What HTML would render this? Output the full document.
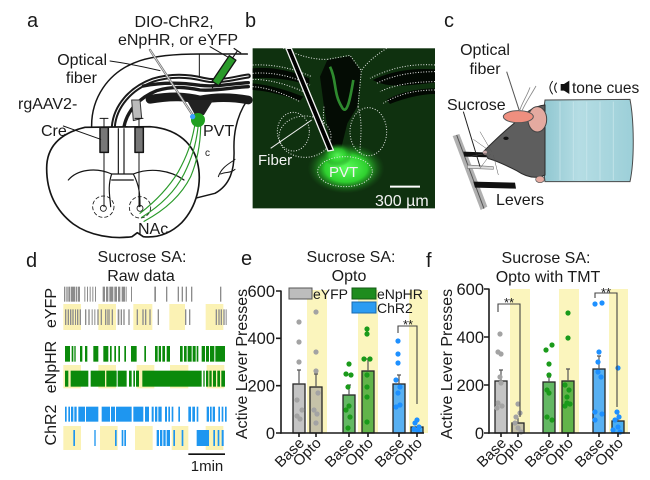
<!DOCTYPE html>
<html><head><meta charset="utf-8">
<style>
html,body{margin:0;padding:0;background:#fff;}
svg{display:block;}
text{font-family:"Liberation Sans",Arial,sans-serif;fill:#1a1a1a;}
</style></head><body>
<svg width="650" height="480" viewBox="0 0 650 480" xmlns="http://www.w3.org/2000/svg">
<defs>
<radialGradient id="pvtg" cx="0.5" cy="0.5" r="0.5">
<stop offset="0" stop-color="#5cff5c"/>
<stop offset="0.55" stop-color="#2fd02f"/>
<stop offset="1" stop-color="#1a6a1a" stop-opacity="0"/>
</radialGradient>
<linearGradient id="tubeg" x1="0" y1="0" x2="1" y2="0">
<stop offset="0" stop-color="#8fc6d0"/>
<stop offset="0.4" stop-color="#b5dde4"/>
<stop offset="1" stop-color="#9ccfd8"/>
</linearGradient>
</defs>
<rect width="650" height="480" fill="#fff"/>

<!-- ================= PANEL A ================= -->
<g transform="scale(0.333333)" fill="none" stroke="#151515" stroke-width="4.5" stroke-linecap="round" stroke-linejoin="round">
  <path d="M275,385 C272,300 320,215 420,182 C470,166 530,162 600,162 L742,162" fill="#fff"/>
  <path d="M598,164 L598,235" stroke-width="3"/>
  <path d="M742,300 C715,340 700,390 702,450 C704,510 690,555 645,580 L585,595"/>
  <path d="M340,380 C345,320 390,265 460,240 C520,222 570,228 610,238 C660,250 710,232 745,228" stroke="#1a1a1a" stroke-width="15"/>
  <path d="M340,380 C345,320 390,265 460,240 C520,222 570,228 610,238 C660,250 710,232 745,228" stroke="#fff" stroke-width="3"/>
  <path d="M430,258 C500,244 560,250 600,256 C650,262 700,250 745,248" stroke="#1a1a1a" stroke-width="10"/>
  <path d="M372,380 C382,330 420,292 470,272 C520,257 560,262 600,270 C650,274 710,260 745,260" stroke="#1a1a1a" stroke-width="10"/>
  <path d="M450,298 C520,286 560,290 600,300 C650,290 700,292 745,300" stroke="#1a1a1a" stroke-width="26"/>
  <path d="M560,300 L640,300 L612,345 L585,345 Z" fill="#222" stroke="none"/>
  <path d="M395,300 L420,300 L425,355 L400,362 Z" fill="#bbb" stroke="#333" stroke-width="3"/>
  <path d="M255,382 L450,380 C520,385 575,420 592,485 C608,550 590,620 545,668 C510,702 470,714 430,710 L412,698 L396,710 C340,718 270,708 220,672 C168,632 140,575 140,505 C140,440 180,400 255,382 Z" fill="#fff" stroke-width="5"/>
  <path d="M355,386 L355,520 M372,386 L372,520" stroke-width="3.5"/>
  <path d="M205,540 C230,510 285,500 335,522 L400,522 C450,502 510,510 552,540" stroke-width="3.5"/>
  <path d="M335,540 L400,540" stroke-width="3.5"/>
  <path d="M335,522 C322,560 330,590 332,620 M400,522 C420,560 420,590 420,620" stroke-width="3.5"/>
  <circle cx="310" cy="620" r="32" stroke-dasharray="10 8" stroke-width="2.5"/>
  <circle cx="420" cy="622" r="32" stroke-dasharray="10 8" stroke-width="2.5"/>
  <circle cx="310" cy="625" r="9" stroke-width="2.5"/>
  <circle cx="420" cy="625" r="9" stroke-width="2.5"/>
  <path d="M655,530 C665,500 690,490 705,478 M662,522 C678,515 692,520 705,508" stroke-width="3"/>
  <path d="M312,355 L312,385 M300,355 L324,355 M312,455 L312,620" stroke-width="3"/>
  <rect x="300" y="382" width="25" height="75" fill="#777"/>
  <path d="M417,355 L417,385 M405,355 L429,355 M417,455 L417,620" stroke-width="3"/>
  <rect x="405" y="382" width="25" height="75" fill="#777"/>
  <path d="M190,378 L302,418" stroke-width="3"/>
  <path d="M330,183 C380,190 430,200 480,212" stroke-width="3"/>
  <path d="M630,140 L690,175" stroke-width="3"/>
  <path d="M450,150 L580,348" stroke="#777" stroke-width="7"/>
  <path d="M450,150 L580,348" stroke="#fff" stroke-width="2"/>
  <g transform="translate(672,212) rotate(-56)">
    <rect x="-46" y="-12" width="92" height="24" fill="#2a9a2a" stroke="#151515" stroke-width="4"/>
    <path d="M46,0 L72,0 M72,-12 L72,12" stroke-width="3.5"/>
    <path d="M-46,0 L-62,0" stroke-width="3"/>
  </g>
  <path d="M585,372 C575,430 560,470 535,515 C505,565 465,605 420,640" stroke="#2a9a2a" stroke-width="3.5"/>
  <path d="M595,374 C588,440 572,482 552,522 C525,575 480,618 425,652" stroke="#2a9a2a" stroke-width="3.5"/>
  <path d="M602,372 C602,432 592,482 572,530 C542,590 492,632 432,664" stroke="#2a9a2a" stroke-width="3.5"/>
  <circle cx="594" cy="360" r="21" fill="#1fa01f" stroke="none"/>
  <circle cx="578" cy="350" r="8" fill="#3aa0ff" stroke="none"/>
</g>
<text x="27" y="27" font-size="20">a</text>
<text x="174" y="27" font-size="16" text-anchor="middle">DIO-ChR2,</text>
<text x="178" y="45" font-size="16" text-anchor="middle">eNpHR, or eYFP</text>
<text x="107" y="65" font-size="16" text-anchor="end">Optical</text>
<text x="97" y="83" font-size="16" text-anchor="end">fiber</text>
<text x="18" y="109" font-size="16">rgAAV2-</text>
<text x="41" y="136" font-size="16">Cre</text>
<text x="203" y="136" font-size="16">PVT</text>
<text x="138" y="234" font-size="16">NAc</text>
<text x="205" y="156" font-size="10">c</text>

<!-- ================= PANEL B ================= -->
<text x="245" y="27" font-size="20">b</text>
<g transform="translate(250,40) scale(0.333333)">
  <rect x="8" y="25" width="547" height="480" fill="#133a13"/>
  <rect x="8" y="25" width="547" height="480" fill="#0a230a" opacity="0.35"/>
  <path d="M8,85 C60,80 120,90 178,115 L178,135 C120,118 60,110 8,115 Z" fill="#020802"/>
  <path d="M8,130 C60,135 110,150 160,170 L150,182 C100,165 50,152 8,150 Z" fill="#020802"/>
  <path d="M555,88 C480,83 420,95 368,120 C420,148 480,135 555,128 Z" fill="#020802"/>
  <path d="M555,145 C500,145 440,160 410,180 L420,192 C470,172 520,162 555,162 Z" fill="#020802"/>
  <path d="M232,60 L300,48 L332,92 L322,200 L292,250 L272,330 L242,320 L222,200 L210,110 Z" fill="#040c04"/>
  <path d="M240,80 C260,120 250,160 275,200 C290,230 300,180 310,120" fill="none" stroke="#2e8a2e" stroke-width="8"/>
  <ellipse cx="288" cy="385" rx="115" ry="75" fill="url(#pvtg)"/>
  <ellipse cx="262" cy="345" rx="45" ry="35" fill="url(#pvtg)" opacity="0.8"/>
  <g fill="none" stroke="#e8e8e8" stroke-width="3" stroke-dasharray="3 5">
    <path d="M8,75 C70,72 130,85 185,110"/>
    <path d="M8,100 C70,95 130,110 180,135"/>
    <path d="M8,118 C60,118 120,135 170,160"/>
    <path d="M8,140 C50,142 100,160 150,185"/>
    <path d="M555,75 C480,70 420,85 360,115"/>
    <path d="M555,95 C490,95 430,105 380,130"/>
    <path d="M555,125 C490,125 430,135 390,155"/>
    <path d="M555,150 C490,150 440,165 400,190"/>
    <path d="M232,58 L300,46 L334,92 L324,200"/>
    <path d="M100,25 C140,45 190,60 232,58"/>
    <path d="M410,25 C370,50 345,75 334,92"/>
    <ellipse cx="165" cy="290" rx="78" ry="62"/>
    <ellipse cx="130" cy="275" rx="48" ry="58"/>
    <ellipse cx="355" cy="275" rx="55" ry="72"/>
    <ellipse cx="285" cy="395" rx="82" ry="45"/>
    <path d="M222,200 C215,260 230,310 240,330"/>
    <path d="M324,200 C340,250 330,300 330,340"/>
  </g>
  <path d="M108,25 L124,25 L250,330 L234,333 Z" fill="#000" stroke="#f4f4f4" stroke-width="4"/>
  <path d="M62,325 L185,240" stroke="#eee" stroke-width="3"/>
  <path d="M420,440 L510,440" stroke="#fff" stroke-width="6"/>
</g>
<text x="258" y="165" font-size="15" style="fill:#f2f2f2">Fiber</text>
<text x="329" y="177" font-size="15" style="fill:#f2f2f2">PVT</text>
<text x="375" y="206" font-size="16" style="fill:#f2f2f2">300 µm</text>

<!-- ================= PANEL C ================= -->
<text x="444" y="27" font-size="20">c</text>
<g transform="translate(430,0) scale(0.333333)">
  <path d="M68,408 L88,402 L172,620 L152,630 Z" fill="#b0b0b0"/>
  <path d="M80,405 L162,626" stroke="#555" stroke-width="3"/>
  <path d="M100,455 L178,458 L181,472 L103,470 Z" fill="#111"/>
  <path d="M112,495 L190,500 L190,508 L112,505 Z" fill="#ddd" stroke="#777" stroke-width="2"/>
  <path d="M130,545 L255,548 L258,566 L135,563 Z" fill="#111"/>
  <path d="M100,335 L150,500" stroke="#222" stroke-width="3"/>
  <path d="M345,300 L600,298 C612,360 614,480 600,545 L345,545 C335,470 335,370 345,300 Z" fill="url(#tubeg)" stroke="#4a4a4a" stroke-width="3"/>
  <g stroke="#c8e6ec" stroke-width="3" opacity="0.8">
    <path d="M390,305 L390,540 M430,305 L430,540 M470,305 L470,540 M510,305 L510,540 M550,305 L550,540"/>
  </g>
  <path d="M160,455 C185,430 215,400 250,372 C280,342 310,318 345,315 L345,525 C320,537 290,532 260,512 C230,497 200,482 175,476 Z" fill="#5e5e5e" stroke="#2a2a2a" stroke-width="3"/>
  <ellipse cx="322" cy="358" rx="28" ry="38" fill="#e4aaa0" stroke="#444" stroke-width="3"/>
  <ellipse cx="265" cy="350" rx="45" ry="18" fill="#ef8f7f" stroke="#555" stroke-width="3"/>
  <ellipse cx="228" cy="415" rx="8" ry="5" fill="#111"/>
  <circle cx="165" cy="458" r="6" fill="#caa"/>
  <ellipse cx="330" cy="538" rx="13" ry="10" fill="#e4aaa0" stroke="#555" stroke-width="2"/>
  <g stroke="#555" stroke-width="1.5" fill="none">
    <path d="M178,452 L130,418 M178,458 L118,470 M182,462 L150,505 M190,465 L205,525 M185,455 L150,395"/>
  </g>
  <path d="M230,215 L268,332" stroke="#555" stroke-width="3"/>
  <path d="M318,258 C300,290 285,310 275,335 M300,262 C290,290 275,310 268,335" stroke="#888" stroke-width="2.5" fill="none"/>
  <path d="M392,252 L402,252 L418,242 L418,282 L402,272 L392,272 Z" fill="#111"/>
  <path d="M380,248 C372,258 372,268 380,278 M368,243 C357,258 357,268 368,283" stroke="#111" stroke-width="3" fill="none"/>
</g>
<text x="485" y="55" font-size="16" text-anchor="middle">Optical</text>
<text x="485" y="74" font-size="16" text-anchor="middle">fiber</text>
<text x="572" y="93" font-size="15.5">tone cues</text>
<text x="447" y="110" font-size="16">Sucrose</text>
<text x="496" y="205" font-size="16">Levers</text>

<!-- ================= PANEL D ================= -->
<text x="26" y="267" font-size="20">d</text>
<text x="142" y="262" font-size="16" text-anchor="middle">Sucrose SA:</text>
<text x="141" y="281" font-size="16" text-anchor="middle">Raw data</text>
<text transform="translate(56,308) rotate(-90)" font-size="16" text-anchor="middle">eYFP</text>
<text transform="translate(56,367) rotate(-90)" font-size="16" text-anchor="middle">eNpHR</text>
<text transform="translate(56,425) rotate(-90)" font-size="16" text-anchor="middle">ChR2</text>
<g transform="translate(55,280) scale(0.333333)">
  <g fill="#fbf2b4">
    <rect x="25" y="72" width="53" height="78"/><rect x="130" y="72" width="53" height="78"/><rect x="235" y="72" width="57" height="78"/><rect x="343" y="72" width="47" height="78"/><rect x="452" y="72" width="53" height="78"/>
    <rect x="25" y="255" width="53" height="70"/><rect x="130" y="255" width="53" height="70"/><rect x="245" y="255" width="53" height="70"/><rect x="345" y="255" width="55" height="70"/><rect x="455" y="255" width="53" height="70"/>
    <rect x="25" y="438" width="53" height="72"/><rect x="135" y="438" width="53" height="72"/><rect x="240" y="438" width="53" height="72"/><rect x="350" y="438" width="50" height="72"/><rect x="452" y="438" width="53" height="72"/>
  </g>
  <g fill="#8c8c8c">
    <rect x="27" y="20" width="4" height="45"/><rect x="34" y="20" width="4" height="45"/><rect x="40" y="20" width="6" height="45"/><rect x="48" y="20" width="12" height="45"/><rect x="62" y="20" width="4" height="45"/><rect x="68" y="20" width="7" height="45"/>
    <rect x="88" y="20" width="3" height="45"/><rect x="96" y="20" width="3" height="45"/><rect x="104" y="20" width="3" height="45"/><rect x="112" y="20" width="3" height="45"/><rect x="120" y="20" width="3" height="45"/>
    <rect x="143" y="20" width="7" height="45"/><rect x="153" y="20" width="7" height="45"/><rect x="163" y="20" width="12" height="45"/><rect x="178" y="20" width="8" height="45"/><rect x="189" y="20" width="7" height="45"/><rect x="200" y="20" width="10" height="45"/><rect x="212" y="20" width="3" height="45"/>
    <rect x="228" y="20" width="3" height="45"/><rect x="298" y="20" width="5" height="45"/><rect x="333" y="20" width="4" height="45"/><rect x="368" y="20" width="4" height="45"/><rect x="380" y="20" width="4" height="45"/><rect x="392" y="20" width="4" height="45"/><rect x="408" y="20" width="4" height="45"/><rect x="495" y="20" width="4" height="45"/>
  </g>
  <g fill="#8c8c8c">
    <rect x="30" y="88" width="4" height="47"/><rect x="38" y="88" width="4" height="47"/><rect x="45" y="88" width="4" height="47"/><rect x="52" y="88" width="4" height="47"/><rect x="60" y="88" width="3" height="47"/><rect x="66" y="88" width="4" height="47"/><rect x="74" y="88" width="4" height="47"/>
    <rect x="90" y="88" width="4" height="47"/><rect x="100" y="88" width="4" height="47"/><rect x="110" y="88" width="3" height="47"/><rect x="118" y="88" width="3" height="47"/><rect x="127" y="88" width="4" height="47"/><rect x="137" y="88" width="4" height="47"/><rect x="150" y="88" width="3" height="47"/><rect x="155" y="88" width="3" height="47"/><rect x="160" y="88" width="4" height="47"/><rect x="170" y="88" width="4" height="47"/>
    <rect x="188" y="88" width="5" height="47"/><rect x="197" y="88" width="4" height="47"/><rect x="205" y="88" width="4" height="47"/><rect x="220" y="88" width="4" height="47"/><rect x="245" y="88" width="4" height="47"/><rect x="262" y="88" width="4" height="47"/><rect x="270" y="88" width="4" height="47"/><rect x="283" y="88" width="4" height="47"/><rect x="308" y="88" width="4" height="47"/>
    <rect x="390" y="88" width="4" height="47"/><rect x="402" y="88" width="4" height="47"/><rect x="482" y="88" width="4" height="47"/><rect x="490" y="88" width="4" height="47"/><rect x="497" y="88" width="4" height="47"/><rect x="505" y="88" width="4" height="47"/><rect x="512" y="88" width="3" height="47"/>
  </g>
  <g fill="#0b8a0b">
    <rect x="30" y="198" width="15" height="47"/><rect x="50" y="198" width="5" height="47"/><rect x="58" y="198" width="4" height="47"/><rect x="75" y="198" width="7" height="47"/><rect x="90" y="198" width="7" height="47"/><rect x="115" y="198" width="15" height="47"/><rect x="145" y="198" width="15" height="47"/><rect x="165" y="198" width="5" height="47"/><rect x="178" y="198" width="5" height="47"/><rect x="190" y="198" width="5" height="47"/><rect x="208" y="198" width="5" height="47"/><rect x="228" y="198" width="17" height="47"/><rect x="268" y="198" width="5" height="47"/>
    <rect x="300" y="198" width="8" height="47"/><rect x="311" y="198" width="7" height="47"/><rect x="322" y="198" width="8" height="47"/><rect x="335" y="198" width="10" height="47"/><rect x="375" y="198" width="8" height="47"/><rect x="387" y="198" width="8" height="47"/><rect x="398" y="198" width="12" height="47"/><rect x="413" y="198" width="9" height="47"/><rect x="425" y="198" width="5" height="47"/><rect x="440" y="198" width="10" height="47"/><rect x="453" y="198" width="9" height="47"/><rect x="465" y="198" width="13" height="47"/><rect x="481" y="198" width="29" height="47"/>
  </g>
  <g fill="#0b8a0b">
    <rect x="30" y="272" width="10" height="48"/><rect x="47" y="272" width="53" height="48"/><rect x="107" y="272" width="43" height="48"/><rect x="154" y="272" width="31" height="48"/><rect x="188" y="272" width="27" height="48"/><rect x="222" y="272" width="8" height="48"/><rect x="235" y="272" width="5" height="48"/><rect x="243" y="272" width="9" height="48"/><rect x="262" y="272" width="178" height="48"/><rect x="445" y="272" width="4" height="48"/><rect x="453" y="272" width="7" height="48"/><rect x="463" y="272" width="7" height="48"/><rect x="474" y="272" width="9" height="48"/><rect x="487" y="272" width="8" height="48"/><rect x="499" y="272" width="11" height="48"/>
  </g>
  <g fill="#1e96f0">
    <rect x="30" y="380" width="5" height="45"/><rect x="40" y="380" width="5" height="45"/><rect x="48" y="380" width="7" height="45"/><rect x="58" y="380" width="7" height="45"/><rect x="70" y="380" width="20" height="45"/><rect x="93" y="380" width="37" height="45"/><rect x="140" y="380" width="25" height="45"/><rect x="168" y="380" width="12" height="45"/><rect x="183" y="380" width="47" height="45"/><rect x="235" y="380" width="30" height="45"/><rect x="270" y="380" width="12" height="45"/>
    <rect x="290" y="380" width="6" height="45"/><rect x="300" y="380" width="7" height="45"/><rect x="310" y="380" width="10" height="45"/><rect x="330" y="380" width="6" height="45"/><rect x="340" y="380" width="5" height="45"/><rect x="350" y="380" width="5" height="45"/><rect x="370" y="380" width="5" height="45"/><rect x="400" y="380" width="8" height="45"/><rect x="412" y="380" width="8" height="45"/><rect x="425" y="380" width="5" height="45"/><rect x="455" y="380" width="7" height="45"/><rect x="465" y="380" width="5" height="45"/><rect x="473" y="380" width="7" height="45"/><rect x="490" y="380" width="5" height="45"/><rect x="500" y="380" width="5" height="45"/><rect x="510" y="380" width="5" height="45"/>
  </g>
  <g fill="#1e96f0">
    <rect x="55" y="450" width="5" height="48"/><rect x="118" y="450" width="4" height="48"/><rect x="180" y="450" width="5" height="48"/><rect x="200" y="450" width="5" height="48"/><rect x="208" y="450" width="5" height="48"/><rect x="305" y="450" width="7" height="48"/><rect x="315" y="450" width="7" height="48"/><rect x="325" y="450" width="7" height="48"/><rect x="335" y="450" width="10" height="48"/><rect x="355" y="450" width="5" height="48"/><rect x="380" y="450" width="5" height="48"/><rect x="425" y="450" width="37" height="48"/><rect x="475" y="450" width="5" height="48"/><rect x="488" y="450" width="5" height="48"/><rect x="500" y="450" width="6" height="48"/>
  </g>
  <rect x="400" y="520" width="110" height="5" fill="#111"/>
</g>
<text x="207" y="471" font-size="15" text-anchor="middle">1min</text>

<!-- ================= PANEL E ================= -->
<text x="241" y="265" font-size="20">e</text>
<text x="351" y="262" font-size="16" text-anchor="middle">Sucrose SA:</text>
<text x="349" y="281" font-size="16" text-anchor="middle">Opto</text>
<text transform="translate(247,364) rotate(-90)" font-size="16" text-anchor="middle">Active Lever Presses</text>
<g fill="#fbf5bd">
  <rect x="307" y="290" width="20" height="143"/>
  <rect x="358" y="290" width="20" height="143"/>
  <rect x="409" y="290" width="19" height="143"/>
</g>
<g stroke="#262626" stroke-width="1.3">
  <rect x="293" y="384" width="12" height="49" fill="#c4c4c4"/>
  <rect x="310" y="387" width="12" height="46" fill="#c6c2a8"/>
  <rect x="343" y="395" width="12" height="38" fill="#63b863"/>
  <rect x="362" y="371" width="12" height="62" fill="#62b44a"/>
  <rect x="393" y="384" width="12" height="49" fill="#58b0f2"/>
  <rect x="411" y="427" width="12" height="6" fill="#4aaef0"/>
</g>
<g stroke="#555" stroke-width="1.2">
  <path d="M299,384 L299,370 M297,370 L301,370"/>
  <path d="M316,387 L316,374 M314,374 L318,374"/>
  <path d="M349,395 L349,385 M347,385 L351,385"/>
  <path d="M368,371 L368,359 M366,359 L370,359"/>
  <path d="M399,384 L399,375 M397,375 L401,375"/>
</g>
<g fill="#a3a3a3">
  <circle cx="299" cy="322" r="2.6"/><circle cx="299" cy="342" r="2.6"/><circle cx="299" cy="362" r="2.6"/><circle cx="297" cy="400" r="2.6"/><circle cx="302" cy="410" r="2.6"/><circle cx="297" cy="416" r="2.6"/><circle cx="300" cy="419" r="2.6"/>
  <circle cx="316" cy="312" r="2.6"/><circle cx="316" cy="352" r="2.6"/><circle cx="316" cy="371" r="2.6"/><circle cx="318" cy="393" r="2.6"/><circle cx="314" cy="410" r="2.6"/><circle cx="317" cy="414" r="2.6"/><circle cx="316" cy="423" r="2.6"/>
</g>
<g fill="#1a9a1a">
  <circle cx="349" cy="364" r="2.6"/><circle cx="346" cy="374" r="2.6"/><circle cx="351" cy="375" r="2.6"/><circle cx="348" cy="387" r="2.6"/><circle cx="349" cy="406" r="2.6"/><circle cx="346" cy="410" r="2.6"/><circle cx="350" cy="417" r="2.6"/><circle cx="348" cy="428" r="2.6"/>
  <circle cx="367" cy="329" r="2.6"/><circle cx="367" cy="334" r="2.6"/><circle cx="364" cy="359" r="2.6"/><circle cx="370" cy="359" r="2.6"/><circle cx="367" cy="375" r="2.6"/><circle cx="367" cy="387" r="2.6"/><circle cx="367" cy="397" r="2.6"/><circle cx="367" cy="422" r="2.6"/>
</g>
<g fill="#1e90ff">
  <circle cx="398" cy="341" r="2.6"/><circle cx="398" cy="354" r="2.6"/><circle cx="398" cy="363" r="2.6"/><circle cx="396" cy="380" r="2.6"/><circle cx="400" cy="387" r="2.6"/><circle cx="398" cy="393" r="2.6"/><circle cx="400" cy="405" r="2.6"/><circle cx="396" cy="407" r="2.6"/>
  <circle cx="417" cy="420" r="2.6"/><circle cx="415" cy="423" r="2.6"/><circle cx="419" cy="427" r="2.6"/><circle cx="414" cy="429" r="2.6"/><circle cx="418" cy="431" r="2.6"/>
</g>
<path d="M398,333 L398,326 L417,326 L417,404" fill="none" stroke="#444" stroke-width="1.1"/>
<text x="408" y="329" font-size="13" text-anchor="middle">**</text>
<g stroke="#1a1a1a" stroke-width="1.6">
  <line x1="281" y1="290.5" x2="281" y2="433.8"/>
  <line x1="280.2" y1="433" x2="424" y2="433"/>
  <path d="M276,291 L281,291 M276,338.3 L281,338.3 M276,385.7 L281,385.7 M276,433 L281,433"/>
  <path d="M299,433 L299,437 M316,433 L316,437 M349,433 L349,437 M368,433 L368,437 M399,433 L399,437 M417,433 L417,437"/>
</g>
<g font-size="16.5" text-anchor="end">
  <text x="275" y="297">600</text><text x="275" y="344">400</text><text x="275" y="391.5">200</text><text x="275" y="439">0</text>
</g>
<g font-size="15" text-anchor="end">
  <text transform="translate(305,444) rotate(-45)">Base</text>
  <text transform="translate(322,444) rotate(-45)">Opto</text>
  <text transform="translate(355,444) rotate(-45)">Base</text>
  <text transform="translate(374,444) rotate(-45)">Opto</text>
  <text transform="translate(405,444) rotate(-45)">Base</text>
  <text transform="translate(423,444) rotate(-45)">Opto</text>
</g>
<rect x="289" y="288" width="23" height="11" fill="#bdbdbd" stroke="#555" stroke-width="1"/>
<text x="313" y="299" font-size="14">eYFP</text>
<rect x="352" y="288" width="24" height="11" fill="#1e8c1e" stroke="#145a14" stroke-width="1"/>
<text x="377" y="299" font-size="14">eNpHR</text>
<rect x="352" y="302" width="24" height="11" fill="#2b9cf2" stroke="#1a6ab0" stroke-width="1"/>
<text x="377" y="313" font-size="14">ChR2</text>

<!-- ================= PANEL F ================= -->
<text x="426" y="267" font-size="20">f</text>
<text x="546" y="263" font-size="16" text-anchor="middle">Sucrose SA:</text>
<text x="548" y="282" font-size="16" text-anchor="middle">Opto with TMT</text>
<text transform="translate(452,364) rotate(-90)" font-size="16" text-anchor="middle">Active Lever Presses</text>
<g fill="#fbf5bd">
  <rect x="510" y="289" width="20" height="144"/>
  <rect x="559" y="289" width="20" height="144"/>
  <rect x="609" y="289" width="19" height="144"/>
</g>
<g stroke="#262626" stroke-width="1.3">
  <rect x="495" y="381" width="12" height="52" fill="#c4c4c4"/>
  <rect x="512" y="423" width="12" height="10" fill="#c6c2a8"/>
  <rect x="543" y="382" width="12" height="51" fill="#63b863"/>
  <rect x="562" y="381" width="12" height="52" fill="#62b44a"/>
  <rect x="593" y="369" width="12" height="64" fill="#58b0f2"/>
  <rect x="612" y="421" width="12" height="12" fill="#4aaef0"/>
</g>
<g stroke="#555" stroke-width="1.2">
  <path d="M501,381 L501,370 M499,370 L503,370"/>
  <path d="M518,423 L518,418"/>
  <path d="M549,382 L549,377 M547,377 L551,377"/>
  <path d="M568,381 L568,369 M566,369 L570,369"/>
  <path d="M599,369 L599,356 M597,356 L601,356"/>
  <path d="M618,421 L618,414"/>
</g>
<g fill="#a3a3a3">
  <circle cx="500" cy="334" r="2.6"/><circle cx="498" cy="352" r="2.6"/><circle cx="501" cy="354" r="2.6"/><circle cx="500" cy="377" r="2.6"/><circle cx="501" cy="383" r="2.6"/><circle cx="498" cy="403" r="2.6"/><circle cx="502" cy="406" r="2.6"/><circle cx="497" cy="408" r="2.6"/>
  <circle cx="518" cy="404" r="2.6"/><circle cx="520" cy="413" r="2.6"/><circle cx="516" cy="417" r="2.6"/><circle cx="515" cy="423" r="2.6"/><circle cx="518" cy="428" r="2.6"/><circle cx="521" cy="432" r="2.6"/>
</g>
<g fill="#1a9a1a">
  <circle cx="546" cy="350" r="2.6"/><circle cx="552" cy="345" r="2.6"/><circle cx="549" cy="364" r="2.6"/><circle cx="549" cy="375" r="2.6"/><circle cx="547" cy="390" r="2.6"/><circle cx="549" cy="393" r="2.6"/><circle cx="547" cy="417" r="2.6"/><circle cx="552" cy="420" r="2.6"/>
  <circle cx="568" cy="313" r="2.6"/><circle cx="568" cy="338" r="2.6"/><circle cx="565" cy="385" r="2.6"/><circle cx="569" cy="390" r="2.6"/><circle cx="567" cy="397" r="2.6"/><circle cx="567" cy="403" r="2.6"/><circle cx="570" cy="404" r="2.6"/><circle cx="565" cy="406" r="2.6"/>
</g>
<g fill="#1e90ff">
  <circle cx="595" cy="304" r="2.6"/><circle cx="602" cy="303" r="2.6"/><circle cx="599" cy="352" r="2.6"/><circle cx="598" cy="362" r="2.6"/><circle cx="598" cy="372" r="2.6"/><circle cx="601" cy="377" r="2.6"/><circle cx="595" cy="412" r="2.6"/><circle cx="602" cy="414" r="2.6"/><circle cx="595" cy="420" r="2.6"/>
  <circle cx="618" cy="368" r="2.6"/><circle cx="617" cy="412" r="2.6"/><circle cx="619" cy="417" r="2.6"/><circle cx="615" cy="420" r="2.6"/><circle cx="618" cy="427" r="2.6"/><circle cx="613" cy="430" r="2.6"/><circle cx="620" cy="432" r="2.6"/>
</g>
<path d="M498,312 L498,304 L520,304 L520,417" fill="none" stroke="#444" stroke-width="1.1"/>
<text x="509" y="307" font-size="13" text-anchor="middle">**</text>
<path d="M595,298 L595,293 L617,293 L617,407" fill="none" stroke="#444" stroke-width="1.1"/>
<text x="606" y="297" font-size="13" text-anchor="middle">**</text>
<g stroke="#1a1a1a" stroke-width="1.6">
  <line x1="489" y1="288.5" x2="489" y2="433.8"/>
  <line x1="488.2" y1="433" x2="630" y2="433"/>
  <path d="M484,289 L489,289 M484,337 L489,337 M484,385 L489,385 M484,433 L489,433"/>
  <path d="M501,433 L501,437 M518,433 L518,437 M549,433 L549,437 M568,433 L568,437 M599,433 L599,437 M618,433 L618,437"/>
</g>
<g font-size="16.5" text-anchor="end">
  <text x="484" y="295">600</text><text x="484" y="343">400</text><text x="484" y="391">200</text><text x="484" y="439">0</text>
</g>
<g font-size="15" text-anchor="end">
  <text transform="translate(507,444) rotate(-45)">Base</text>
  <text transform="translate(524,444) rotate(-45)">Opto</text>
  <text transform="translate(555,444) rotate(-45)">Base</text>
  <text transform="translate(574,444) rotate(-45)">Opto</text>
  <text transform="translate(605,444) rotate(-45)">Base</text>
  <text transform="translate(624,444) rotate(-45)">Opto</text>
</g>
</svg>
</body></html>
